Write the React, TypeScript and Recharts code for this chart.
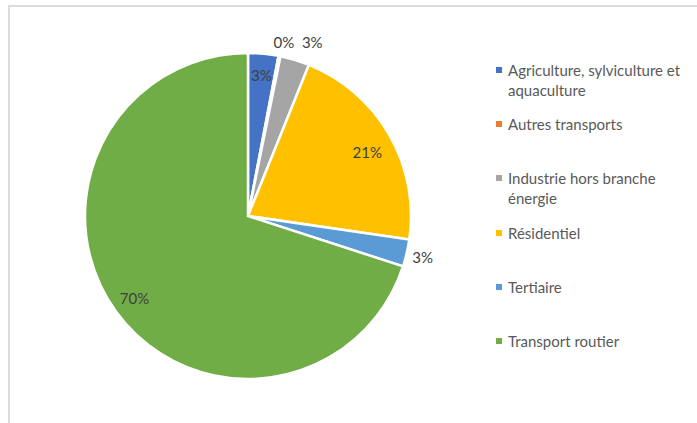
import { PieChart, Pie, Cell, Legend } from 'recharts'

const SECTORS = [
  'Agriculture, sylviculture et aquaculture',
  'Autres transports',
  'Industrie hors branche énergie',
  'Résidentiel',
  'Tertiaire',
  'Transport routier',
]
const SHARES = [3.0, 0.2, 2.9, 21.2, 2.7, 70.0]
const LABELS = ['3%', '0%', '3%', '21%', '3%', '70%']
// legend lines as wrapped in the reference
const LEGEND_LINES = [
  ['Agriculture, sylviculture et', 'aquaculture'],
  ['Autres transports'],
  ['Industrie hors branche', 'énergie'],
  ['Résidentiel'],
  ['Tertiaire'],
  ['Transport routier'],
]

const COLORS = ['#4472C4', '#ED7D31', '#A5A5A5', '#FFC000', '#5B9BD5', '#70AD47']
// radius factor and extra angle (deg) per label
const LABEL_POS: [number, number][] = [
  [0.87, 0],
  [1.09, -0.5],
  [1.14, -3.5],
  [0.83, -1.7],
  [1.1, 0],
  [0.86, 0],
]

const data = SECTORS.map((name, i) => ({ name, value: SHARES[i], label: LABELS[i] }))

const RAD = Math.PI / 180
const FONT = 'Lato, "Open Sans", sans-serif'

function renderLabel(props: any) {
  const { cx, cy, midAngle, outerRadius, index } = props
  const [f, da] = LABEL_POS[index]
  const a = midAngle + da
  const r = outerRadius * f
  const x = cx + r * Math.cos(-a * RAD)
  const y = cy + r * Math.sin(-a * RAD)
  return (
    <text x={x} y={y} fill="#404040" fontSize={15} fontFamily={FONT} textAnchor="middle" dominantBaseline="central">
      {LABELS[index]}
    </text>
  )
}

function LegendBox() {
  return (
    <div style={{ fontFamily: FONT, fontSize: 15, color: '#595959', lineHeight: '20px' }}>
      {LEGEND_LINES.map((lines, i) => (
        <div key={i} style={{ position: 'absolute', top: i * 54.2, left: 0, display: 'flex' }}>
          <span style={{ width: 6, height: 6, background: COLORS[i], marginTop: 7, marginRight: 6, flexShrink: 0 }} />
          <div>
            {lines.map((l) => (
              <div key={l} style={{ whiteSpace: 'nowrap' }}>{l}</div>
            ))}
          </div>
        </div>
      ))}
    </div>
  )
}

export default function App() {
  return (
    <div style={{ position: 'fixed', left: 0, top: 0, width: 697, height: 423, background: '#fff', overflow: 'hidden' }}>
      <div style={{ position: 'absolute', left: 8, top: 5, right: -2, bottom: -2, borderTop: '2px solid #dcdcdc', borderLeft: '2px solid #dcdcdc' }} />
      <PieChart width={697} height={423} margin={{ top: 0, right: 0, bottom: 0, left: 0 }} style={{ position: 'absolute', left: 0, top: 0 }}>
        <Pie
          data={data}
          dataKey="value"
          nameKey="name"
          cx={248}
          cy={216}
          outerRadius={163}
          startAngle={90}
          endAngle={-270}
          stroke="#fff"
          strokeWidth={2.5}
          label={renderLabel}
          labelLine={false}
          isAnimationActive={false}
        >
          {data.map((d, i) => (
            <Cell key={d.name} fill={COLORS[i]} />
          ))}
        </Pie>
        <Legend
          content={() => <LegendBox />}
          wrapperStyle={{ position: 'absolute', left: 496, top: 60, width: 200, height: 320 }}
        />
      </PieChart>
    </div>
  )
}
